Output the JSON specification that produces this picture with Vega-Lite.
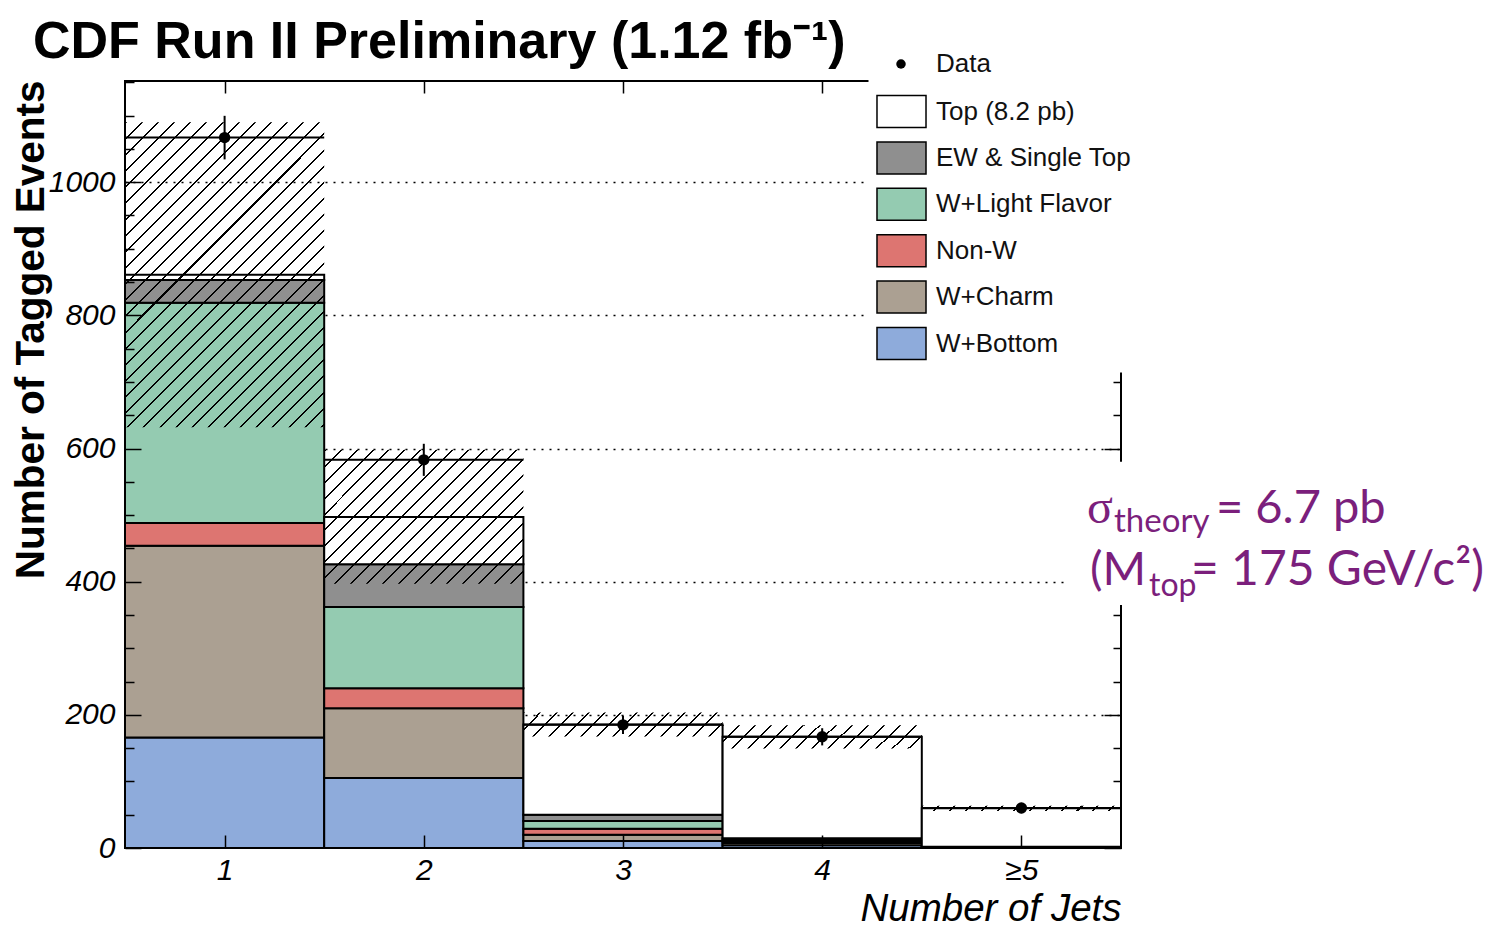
{
  "$schema": "https://vega.github.io/schema/vega-lite/v6.json",
  "width": 996,
  "height": 767,
  "autosize": {"type": "none"},
  "padding": {"left": 125, "top": 81, "right": 389, "bottom": 80},
  "background": "white",
  "title": {"text": "CDF Run II Preliminary (1.12 fb⁻¹)", "anchor": "start", "frame": "group", "font": "Liberation Sans", "fontSize": 52, "fontWeight": "bold", "color": "#000", "offset": 17, "dx": -92, "dy": 35},
  "config": {"view": {"stroke": "#000", "strokeWidth": 2}, "font": "Liberation Sans"},
  "resolve": {"scale": {"x": "shared", "y": "shared"}, "axis": {"x": "independent", "y": "independent"}},
  "datasets": {
    "bkg": [
      {"bin": 1, "x0": 0.5, "x1": 1.5, "k": 1, "comp": "W+Bottom", "n": 166},
      {"bin": 1, "x0": 0.5, "x1": 1.5, "k": 2, "comp": "W+Charm", "n": 288},
      {"bin": 1, "x0": 0.5, "x1": 1.5, "k": 3, "comp": "Non-W", "n": 34},
      {"bin": 1, "x0": 0.5, "x1": 1.5, "k": 4, "comp": "W+Light Flavor", "n": 331},
      {"bin": 1, "x0": 0.5, "x1": 1.5, "k": 5, "comp": "EW & Single Top", "n": 34},
      {"bin": 1, "x0": 0.5, "x1": 1.5, "k": 6, "comp": "Top (8.2 pb)", "n": 8},
      {"bin": 2, "x0": 1.5, "x1": 2.5, "k": 1, "comp": "W+Bottom", "n": 105},
      {"bin": 2, "x0": 1.5, "x1": 2.5, "k": 2, "comp": "W+Charm", "n": 105},
      {"bin": 2, "x0": 1.5, "x1": 2.5, "k": 3, "comp": "Non-W", "n": 30},
      {"bin": 2, "x0": 1.5, "x1": 2.5, "k": 4, "comp": "W+Light Flavor", "n": 122},
      {"bin": 2, "x0": 1.5, "x1": 2.5, "k": 5, "comp": "EW & Single Top", "n": 64},
      {"bin": 2, "x0": 1.5, "x1": 2.5, "k": 6, "comp": "Top (8.2 pb)", "n": 71},
      {"bin": 3, "x0": 2.5, "x1": 3.5, "k": 1, "comp": "W+Bottom", "n": 10.5},
      {"bin": 3, "x0": 2.5, "x1": 3.5, "k": 2, "comp": "W+Charm", "n": 9.5},
      {"bin": 3, "x0": 2.5, "x1": 3.5, "k": 3, "comp": "Non-W", "n": 9},
      {"bin": 3, "x0": 2.5, "x1": 3.5, "k": 4, "comp": "W+Light Flavor", "n": 11.5},
      {"bin": 3, "x0": 2.5, "x1": 3.5, "k": 5, "comp": "EW & Single Top", "n": 9.5},
      {"bin": 3, "x0": 2.5, "x1": 3.5, "k": 6, "comp": "Top (8.2 pb)", "n": 135.5},
      {"bin": 4, "x0": 3.5, "x1": 4.5, "k": 1, "comp": "W+Bottom", "n": 4},
      {"bin": 4, "x0": 3.5, "x1": 4.5, "k": 2, "comp": "W+Charm", "n": 3.5},
      {"bin": 4, "x0": 3.5, "x1": 4.5, "k": 3, "comp": "Non-W", "n": 2.5},
      {"bin": 4, "x0": 3.5, "x1": 4.5, "k": 4, "comp": "W+Light Flavor", "n": 2.5},
      {"bin": 4, "x0": 3.5, "x1": 4.5, "k": 5, "comp": "EW & Single Top", "n": 2},
      {"bin": 4, "x0": 3.5, "x1": 4.5, "k": 6, "comp": "Top (8.2 pb)", "n": 152.5},
      {"bin": 5, "x0": 4.5, "x1": 5.5, "k": 1, "comp": "W+Bottom", "n": 0.5},
      {"bin": 5, "x0": 4.5, "x1": 5.5, "k": 2, "comp": "W+Charm", "n": 0.4},
      {"bin": 5, "x0": 4.5, "x1": 5.5, "k": 3, "comp": "Non-W", "n": 0.4},
      {"bin": 5, "x0": 4.5, "x1": 5.5, "k": 4, "comp": "W+Light Flavor", "n": 0.4},
      {"bin": 5, "x0": 4.5, "x1": 5.5, "k": 5, "comp": "EW & Single Top", "n": 0.3},
      {"bin": 5, "x0": 4.5, "x1": 5.5, "k": 6, "comp": "Top (8.2 pb)", "n": 57.6}
    ],
    "unc": [
      {"bin": 1, "x0": 0.5, "x1": 1.5, "down": 632, "up": 1090},
      {"bin": 2, "x0": 1.5, "x1": 2.5, "down": 397, "up": 598},
      {"bin": 3, "x0": 2.5, "x1": 3.5, "down": 167.5, "up": 203.5},
      {"bin": 4, "x0": 3.5, "x1": 4.5, "down": 149.5, "up": 184.5},
      {"bin": 5, "x0": 4.5, "x1": 5.5, "down": 55.6, "up": 63.6}
    ],
    "obs": [
      {"bin": 1, "x0": 0.5, "x1": 1.5, "n": 1067, "lo": 1034.3, "hi": 1099.7},
      {"bin": 2, "x0": 1.5, "x1": 2.5, "n": 583, "lo": 558.9, "hi": 607.1},
      {"bin": 3, "x0": 2.5, "x1": 3.5, "n": 185, "lo": 171.4, "hi": 198.6},
      {"bin": 4, "x0": 3.5, "x1": 4.5, "n": 167, "lo": 154.1, "hi": 179.9},
      {"bin": 5, "x0": 4.5, "x1": 5.5, "n": 60, "lo": 52.3, "hi": 67.7}
    ]
  },
  "layer": [
    {
      "data": {"name": "obs"},
      "transform": [{"filter": "datum.bin == 1"}],
      "mark": {"type": "rect", "fill": "white", "strokeWidth": 0},
      "encoding": {
        "x": {"datum": 5.22, "type": "quantitative", "scale": {"domain": [0.5, 5.5], "nice": false, "zero": false}, "axis": null},
        "x2": {"datum": 8},
        "y": {"datum": 580, "type": "quantitative", "scale": {"domain": [0, 1152], "nice": false},
          "axis": {"grid": true, "gridDash": [2, 6], "gridColor": "#000", "gridWidth": 1.3, "gridOpacity": 1, "values": [200, 400, 600, 800, 1000], "ticks": false, "labels": false, "domain": false, "title": null, "zindex": 0}},
        "y2": {"datum": 365}
      }
    },
    {
      "data": {"name": "bkg"},
      "transform": [{"stack": "n", "groupby": ["bin"], "sort": [{"field": "k", "order": "ascending"}], "as": ["s0", "s1"]}],
      "mark": {"type": "rect", "stroke": "#000", "strokeWidth": 2},
      "encoding": {
        "x": {"field": "x0", "type": "quantitative", "scale": {"domain": [0.5, 5.5], "nice": false, "zero": false},
          "axis": {"orient": "bottom", "values": [1, 2, 3, 4, 5], "labelExpr": "datum.value == 5 ? '≥5' : datum.label", "format": "d", "tickSize": -13, "tickWidth": 1.5, "tickColor": "#000", "labelPadding": 20, "labelFont": "Liberation Sans", "labelFontStyle": "italic", "labelFontSize": 30, "labelColor": "#000", "labelFlush": false, "labelOverlap": false, "domain": false, "grid": false,
            "title": "Number of Jets", "titleFont": "Liberation Sans", "titleFontStyle": "italic", "titleFontWeight": "normal", "titleFontSize": 38.5, "titleColor": "#000", "titleAlign": "right", "titleBaseline": "alphabetic", "titleX": 996, "titleY": 72, "zindex": 1}},
        "x2": {"field": "x1"},
        "y": {"field": "s0", "type": "quantitative", "scale": {"domain": [0, 1152], "nice": false},
          "axis": {"orient": "left", "values": [0, 200, 400, 600, 800, 1000], "format": "d", "tickSize": -16, "tickWidth": 1.5, "tickColor": "#000", "labelPadding": 26, "labelFont": "Liberation Sans", "labelFontStyle": "italic", "labelFontSize": 30, "labelColor": "#000", "labelFlush": false, "labelOverlap": false, "domain": false, "grid": false,
            "title": "Number of Tagged Events", "titleFont": "Liberation Sans", "titleFontWeight": "bold", "titleFontSize": 40.5, "titleColor": "#000", "titleAngle": -90, "titleAlign": "right", "titleBaseline": "alphabetic", "titleX": -82, "titleY": -1, "zindex": 1}},
        "y2": {"field": "s1"},
        "fill": {"field": "comp", "type": "nominal",
          "scale": {"domain": ["Top (8.2 pb)", "EW & Single Top", "W+Light Flavor", "Non-W", "W+Charm", "W+Bottom"], "range": ["#ffffff", "#8f8f8f", "#94cbb1", "#dd7571", "#aba092", "#8eabdb"]},
          "legend": {"orient": "none", "legendX": 743.5, "legendY": -2.5, "title": null, "padding": 10, "fillColor": "white", "zindex": 2,
            "symbolType": "M-1.114,-0.727H1.114V0.727H-1.114Z", "symbolSize": 1936, "symbolStrokeColor": "#000", "symbolStrokeWidth": 1.5, "symbolOpacity": 1,
            "labelFont": "Liberation Sans", "labelFontSize": 26, "labelColor": "#111", "labelOffset": 11.5, "labelLimit": 400, "rowPadding": 4.4}}
      }
    },
    {
      "data": {"name": "unc"},
      "transform": [{"filter": "datum.bin == 1"}],
      "mark": {"type": "rect", "strokeWidth": 0, "fill": {"gradient": "linear", "x1": 0, "y1": 0, "x2": 0.757, "y2": 1.1587, "stops": [
        {"offset":0,"color":"rgba(0,0,0,0)"},{"offset":0,"color":"#000"},{"offset":0.004,"color":"#000"},{"offset":0.004,"color":"rgba(0,0,0,0)"},
        {"offset":0.032,"color":"rgba(0,0,0,0)"},{"offset":0.032,"color":"#000"},{"offset":0.036,"color":"#000"},{"offset":0.036,"color":"rgba(0,0,0,0)"},
        {"offset":0.064,"color":"rgba(0,0,0,0)"},{"offset":0.064,"color":"#000"},{"offset":0.068,"color":"#000"},{"offset":0.068,"color":"rgba(0,0,0,0)"},
        {"offset":0.096,"color":"rgba(0,0,0,0)"},{"offset":0.096,"color":"#000"},{"offset":0.1,"color":"#000"},{"offset":0.1,"color":"rgba(0,0,0,0)"},
        {"offset":0.128,"color":"rgba(0,0,0,0)"},{"offset":0.128,"color":"#000"},{"offset":0.132,"color":"#000"},{"offset":0.132,"color":"rgba(0,0,0,0)"},
        {"offset":0.16,"color":"rgba(0,0,0,0)"},{"offset":0.16,"color":"#000"},{"offset":0.164,"color":"#000"},{"offset":0.164,"color":"rgba(0,0,0,0)"},
        {"offset":0.192,"color":"rgba(0,0,0,0)"},{"offset":0.192,"color":"#000"},{"offset":0.196,"color":"#000"},{"offset":0.196,"color":"rgba(0,0,0,0)"},
        {"offset":0.224,"color":"rgba(0,0,0,0)"},{"offset":0.224,"color":"#000"},{"offset":0.228,"color":"#000"},{"offset":0.228,"color":"rgba(0,0,0,0)"},
        {"offset":0.256,"color":"rgba(0,0,0,0)"},{"offset":0.256,"color":"#000"},{"offset":0.26,"color":"#000"},{"offset":0.26,"color":"rgba(0,0,0,0)"},
        {"offset":0.288,"color":"rgba(0,0,0,0)"},{"offset":0.288,"color":"#000"},{"offset":0.292,"color":"#000"},{"offset":0.292,"color":"rgba(0,0,0,0)"},
        {"offset":0.32,"color":"rgba(0,0,0,0)"},{"offset":0.32,"color":"#000"},{"offset":0.324,"color":"#000"},{"offset":0.324,"color":"rgba(0,0,0,0)"},
        {"offset":0.352,"color":"rgba(0,0,0,0)"},{"offset":0.352,"color":"#000"},{"offset":0.356,"color":"#000"},{"offset":0.356,"color":"rgba(0,0,0,0)"},
        {"offset":0.384,"color":"rgba(0,0,0,0)"},{"offset":0.384,"color":"#000"},{"offset":0.388,"color":"#000"},{"offset":0.388,"color":"rgba(0,0,0,0)"},
        {"offset":0.416,"color":"rgba(0,0,0,0)"},{"offset":0.416,"color":"#000"},{"offset":0.42,"color":"#000"},{"offset":0.42,"color":"rgba(0,0,0,0)"},
        {"offset":0.448,"color":"rgba(0,0,0,0)"},{"offset":0.448,"color":"#000"},{"offset":0.452,"color":"#000"},{"offset":0.452,"color":"rgba(0,0,0,0)"},
        {"offset":0.48,"color":"rgba(0,0,0,0)"},{"offset":0.48,"color":"#000"},{"offset":0.484,"color":"#000"},{"offset":0.484,"color":"rgba(0,0,0,0)"},
        {"offset":0.512,"color":"rgba(0,0,0,0)"},{"offset":0.512,"color":"#000"},{"offset":0.516,"color":"#000"},{"offset":0.516,"color":"rgba(0,0,0,0)"},
        {"offset":0.544,"color":"rgba(0,0,0,0)"},{"offset":0.544,"color":"#000"},{"offset":0.548,"color":"#000"},{"offset":0.548,"color":"rgba(0,0,0,0)"},
        {"offset":0.576,"color":"rgba(0,0,0,0)"},{"offset":0.576,"color":"#000"},{"offset":0.58,"color":"#000"},{"offset":0.58,"color":"rgba(0,0,0,0)"},
        {"offset":0.608,"color":"rgba(0,0,0,0)"},{"offset":0.608,"color":"#000"},{"offset":0.612,"color":"#000"},{"offset":0.612,"color":"rgba(0,0,0,0)"},
        {"offset":0.64,"color":"rgba(0,0,0,0)"},{"offset":0.64,"color":"#000"},{"offset":0.644,"color":"#000"},{"offset":0.644,"color":"rgba(0,0,0,0)"},
        {"offset":0.672,"color":"rgba(0,0,0,0)"},{"offset":0.672,"color":"#000"},{"offset":0.676,"color":"#000"},{"offset":0.676,"color":"rgba(0,0,0,0)"},
        {"offset":0.704,"color":"rgba(0,0,0,0)"},{"offset":0.704,"color":"#000"},{"offset":0.708,"color":"#000"},{"offset":0.708,"color":"rgba(0,0,0,0)"},
        {"offset":0.736,"color":"rgba(0,0,0,0)"},{"offset":0.736,"color":"#000"},{"offset":0.74,"color":"#000"},{"offset":0.74,"color":"rgba(0,0,0,0)"},
        {"offset":0.768,"color":"rgba(0,0,0,0)"},{"offset":0.768,"color":"#000"},{"offset":0.772,"color":"#000"},{"offset":0.772,"color":"rgba(0,0,0,0)"},
        {"offset":0.8,"color":"rgba(0,0,0,0)"},{"offset":0.8,"color":"#000"},{"offset":0.804,"color":"#000"},{"offset":0.804,"color":"rgba(0,0,0,0)"},
        {"offset":0.832,"color":"rgba(0,0,0,0)"},{"offset":0.832,"color":"#000"},{"offset":0.836,"color":"#000"},{"offset":0.836,"color":"rgba(0,0,0,0)"},
        {"offset":0.864,"color":"rgba(0,0,0,0)"},{"offset":0.864,"color":"#000"},{"offset":0.868,"color":"#000"},{"offset":0.868,"color":"rgba(0,0,0,0)"},
        {"offset":0.896,"color":"rgba(0,0,0,0)"},{"offset":0.896,"color":"#000"},{"offset":0.9,"color":"#000"},{"offset":0.9,"color":"rgba(0,0,0,0)"},
        {"offset":0.928,"color":"rgba(0,0,0,0)"},{"offset":0.928,"color":"#000"},{"offset":0.932,"color":"#000"},{"offset":0.932,"color":"rgba(0,0,0,0)"},
        {"offset":0.96,"color":"rgba(0,0,0,0)"},{"offset":0.96,"color":"#000"},{"offset":0.964,"color":"#000"},{"offset":0.964,"color":"rgba(0,0,0,0)"},
        {"offset":0.992,"color":"rgba(0,0,0,0)"},{"offset":0.992,"color":"#000"},{"offset":0.996,"color":"#000"},{"offset":0.996,"color":"rgba(0,0,0,0)"}
      ]}},
      "encoding": {
        "x": {"field": "x0", "type": "quantitative", "scale": {"domain": [0.5, 5.5], "nice": false, "zero": false},
          "axis": {"orient": "top", "values": [1, 2, 3, 4, 5], "tickSize": -12, "tickWidth": 1.5, "tickColor": "#000", "labels": false, "domain": false, "grid": false, "title": null, "zindex": 1}},
        "x2": {"field": "x1"},
        "y": {"field": "down", "type": "quantitative", "scale": {"domain": [0, 1152], "nice": false},
          "axis": {"orient": "left", "values": [50, 100, 150, 250, 300, 350, 450, 500, 550, 650, 700, 750, 850, 900, 950, 1050, 1100, 1150], "tickSize": -9, "tickWidth": 1.5, "tickColor": "#000", "labels": false, "domain": false, "grid": false, "title": null, "zindex": 1}},
        "y2": {"field": "up"}
      }
    },
    {
      "data": {"name": "unc"},
      "transform": [{"filter": "datum.bin == 2"}],
      "mark": {"type": "rect", "strokeWidth": 0, "fill": {"gradient": "linear", "x1": 0, "y1": 0, "x2": 1.152, "y2": 0.7737, "stops": [
        {"offset":0,"color":"rgba(0,0,0,0)"},{"offset":0,"color":"#000"},{"offset":0.006,"color":"#000"},{"offset":0.006,"color":"rgba(0,0,0,0)"},
        {"offset":0.048,"color":"rgba(0,0,0,0)"},{"offset":0.048,"color":"#000"},{"offset":0.054,"color":"#000"},{"offset":0.054,"color":"rgba(0,0,0,0)"},
        {"offset":0.096,"color":"rgba(0,0,0,0)"},{"offset":0.096,"color":"#000"},{"offset":0.102,"color":"#000"},{"offset":0.102,"color":"rgba(0,0,0,0)"},
        {"offset":0.144,"color":"rgba(0,0,0,0)"},{"offset":0.144,"color":"#000"},{"offset":0.15,"color":"#000"},{"offset":0.15,"color":"rgba(0,0,0,0)"},
        {"offset":0.192,"color":"rgba(0,0,0,0)"},{"offset":0.192,"color":"#000"},{"offset":0.198,"color":"#000"},{"offset":0.198,"color":"rgba(0,0,0,0)"},
        {"offset":0.24,"color":"rgba(0,0,0,0)"},{"offset":0.24,"color":"#000"},{"offset":0.246,"color":"#000"},{"offset":0.246,"color":"rgba(0,0,0,0)"},
        {"offset":0.288,"color":"rgba(0,0,0,0)"},{"offset":0.288,"color":"#000"},{"offset":0.294,"color":"#000"},{"offset":0.294,"color":"rgba(0,0,0,0)"},
        {"offset":0.336,"color":"rgba(0,0,0,0)"},{"offset":0.336,"color":"#000"},{"offset":0.342,"color":"#000"},{"offset":0.342,"color":"rgba(0,0,0,0)"},
        {"offset":0.384,"color":"rgba(0,0,0,0)"},{"offset":0.384,"color":"#000"},{"offset":0.39,"color":"#000"},{"offset":0.39,"color":"rgba(0,0,0,0)"},
        {"offset":0.432,"color":"rgba(0,0,0,0)"},{"offset":0.432,"color":"#000"},{"offset":0.438,"color":"#000"},{"offset":0.438,"color":"rgba(0,0,0,0)"},
        {"offset":0.48,"color":"rgba(0,0,0,0)"},{"offset":0.48,"color":"#000"},{"offset":0.486,"color":"#000"},{"offset":0.486,"color":"rgba(0,0,0,0)"},
        {"offset":0.528,"color":"rgba(0,0,0,0)"},{"offset":0.528,"color":"#000"},{"offset":0.534,"color":"#000"},{"offset":0.534,"color":"rgba(0,0,0,0)"},
        {"offset":0.576,"color":"rgba(0,0,0,0)"},{"offset":0.576,"color":"#000"},{"offset":0.582,"color":"#000"},{"offset":0.582,"color":"rgba(0,0,0,0)"},
        {"offset":0.624,"color":"rgba(0,0,0,0)"},{"offset":0.624,"color":"#000"},{"offset":0.63,"color":"#000"},{"offset":0.63,"color":"rgba(0,0,0,0)"},
        {"offset":0.672,"color":"rgba(0,0,0,0)"},{"offset":0.672,"color":"#000"},{"offset":0.678,"color":"#000"},{"offset":0.678,"color":"rgba(0,0,0,0)"},
        {"offset":0.72,"color":"rgba(0,0,0,0)"},{"offset":0.72,"color":"#000"},{"offset":0.726,"color":"#000"},{"offset":0.726,"color":"rgba(0,0,0,0)"},
        {"offset":0.768,"color":"rgba(0,0,0,0)"},{"offset":0.768,"color":"#000"},{"offset":0.774,"color":"#000"},{"offset":0.774,"color":"rgba(0,0,0,0)"},
        {"offset":0.816,"color":"rgba(0,0,0,0)"},{"offset":0.816,"color":"#000"},{"offset":0.822,"color":"#000"},{"offset":0.822,"color":"rgba(0,0,0,0)"},
        {"offset":0.864,"color":"rgba(0,0,0,0)"},{"offset":0.864,"color":"#000"},{"offset":0.87,"color":"#000"},{"offset":0.87,"color":"rgba(0,0,0,0)"},
        {"offset":0.912,"color":"rgba(0,0,0,0)"},{"offset":0.912,"color":"#000"},{"offset":0.918,"color":"#000"},{"offset":0.918,"color":"rgba(0,0,0,0)"},
        {"offset":0.96,"color":"rgba(0,0,0,0)"},{"offset":0.96,"color":"#000"},{"offset":0.966,"color":"#000"},{"offset":0.966,"color":"rgba(0,0,0,0)"}
      ]}},
      "encoding": {
        "x": {"field": "x0", "type": "quantitative", "scale": {"domain": [0.5, 5.5], "nice": false, "zero": false}, "axis": null},
        "x2": {"field": "x1"},
        "y": {"field": "down", "type": "quantitative", "scale": {"domain": [0, 1152], "nice": false}, "axis": null},
        "y2": {"field": "up"}
      }
    },
    {
      "data": {"name": "unc"},
      "transform": [{"filter": "datum.bin == 3 || datum.bin == 4"}],
      "mark": {"type": "rect", "strokeWidth": 0, "fill": {"gradient": "linear", "x1": 0, "y1": 0, "x2": 1.1033, "y2": 0.1313, "stops": [
        {"offset":0,"color":"rgba(0,0,0,0)"},{"offset":0,"color":"#000"},{"offset":0.009,"color":"#000"},{"offset":0.009,"color":"rgba(0,0,0,0)"},
        {"offset":0.072,"color":"rgba(0,0,0,0)"},{"offset":0.072,"color":"#000"},{"offset":0.081,"color":"#000"},{"offset":0.081,"color":"rgba(0,0,0,0)"},
        {"offset":0.144,"color":"rgba(0,0,0,0)"},{"offset":0.144,"color":"#000"},{"offset":0.153,"color":"#000"},{"offset":0.153,"color":"rgba(0,0,0,0)"},
        {"offset":0.216,"color":"rgba(0,0,0,0)"},{"offset":0.216,"color":"#000"},{"offset":0.225,"color":"#000"},{"offset":0.225,"color":"rgba(0,0,0,0)"},
        {"offset":0.288,"color":"rgba(0,0,0,0)"},{"offset":0.288,"color":"#000"},{"offset":0.297,"color":"#000"},{"offset":0.297,"color":"rgba(0,0,0,0)"},
        {"offset":0.36,"color":"rgba(0,0,0,0)"},{"offset":0.36,"color":"#000"},{"offset":0.369,"color":"#000"},{"offset":0.369,"color":"rgba(0,0,0,0)"},
        {"offset":0.432,"color":"rgba(0,0,0,0)"},{"offset":0.432,"color":"#000"},{"offset":0.441,"color":"#000"},{"offset":0.441,"color":"rgba(0,0,0,0)"},
        {"offset":0.504,"color":"rgba(0,0,0,0)"},{"offset":0.504,"color":"#000"},{"offset":0.513,"color":"#000"},{"offset":0.513,"color":"rgba(0,0,0,0)"},
        {"offset":0.576,"color":"rgba(0,0,0,0)"},{"offset":0.576,"color":"#000"},{"offset":0.585,"color":"#000"},{"offset":0.585,"color":"rgba(0,0,0,0)"},
        {"offset":0.648,"color":"rgba(0,0,0,0)"},{"offset":0.648,"color":"#000"},{"offset":0.657,"color":"#000"},{"offset":0.657,"color":"rgba(0,0,0,0)"},
        {"offset":0.72,"color":"rgba(0,0,0,0)"},{"offset":0.72,"color":"#000"},{"offset":0.729,"color":"#000"},{"offset":0.729,"color":"rgba(0,0,0,0)"},
        {"offset":0.792,"color":"rgba(0,0,0,0)"},{"offset":0.792,"color":"#000"},{"offset":0.801,"color":"#000"},{"offset":0.801,"color":"rgba(0,0,0,0)"},
        {"offset":0.864,"color":"rgba(0,0,0,0)"},{"offset":0.864,"color":"#000"},{"offset":0.873,"color":"#000"},{"offset":0.873,"color":"rgba(0,0,0,0)"},
        {"offset":0.936,"color":"rgba(0,0,0,0)"},{"offset":0.936,"color":"#000"},{"offset":0.945,"color":"#000"},{"offset":0.945,"color":"rgba(0,0,0,0)"}
      ]}},
      "encoding": {
        "x": {"field": "x0", "type": "quantitative", "scale": {"domain": [0.5, 5.5], "nice": false, "zero": false}, "axis": null},
        "x2": {"field": "x1"},
        "y": {"field": "down", "type": "quantitative", "scale": {"domain": [0, 1152], "nice": false}, "axis": null},
        "y2": {"field": "up"}
      }
    },
    {
      "data": {"name": "unc"},
      "transform": [{"filter": "datum.bin == 5"}],
      "mark": {"type": "rect", "strokeWidth": 0, "fill": {"gradient": "linear", "x1": 0, "y1": 0, "x2": 1.0259, "y2": 0.02745, "stops": [
        {"offset":0,"color":"rgba(0,0,0,0)"},{"offset":0,"color":"#000"},{"offset":0.01,"color":"#000"},{"offset":0.01,"color":"rgba(0,0,0,0)"},
        {"offset":0.078,"color":"rgba(0,0,0,0)"},{"offset":0.078,"color":"#000"},{"offset":0.088,"color":"#000"},{"offset":0.088,"color":"rgba(0,0,0,0)"},
        {"offset":0.156,"color":"rgba(0,0,0,0)"},{"offset":0.156,"color":"#000"},{"offset":0.166,"color":"#000"},{"offset":0.166,"color":"rgba(0,0,0,0)"},
        {"offset":0.234,"color":"rgba(0,0,0,0)"},{"offset":0.234,"color":"#000"},{"offset":0.244,"color":"#000"},{"offset":0.244,"color":"rgba(0,0,0,0)"},
        {"offset":0.312,"color":"rgba(0,0,0,0)"},{"offset":0.312,"color":"#000"},{"offset":0.322,"color":"#000"},{"offset":0.322,"color":"rgba(0,0,0,0)"},
        {"offset":0.39,"color":"rgba(0,0,0,0)"},{"offset":0.39,"color":"#000"},{"offset":0.4,"color":"#000"},{"offset":0.4,"color":"rgba(0,0,0,0)"},
        {"offset":0.468,"color":"rgba(0,0,0,0)"},{"offset":0.468,"color":"#000"},{"offset":0.478,"color":"#000"},{"offset":0.478,"color":"rgba(0,0,0,0)"},
        {"offset":0.546,"color":"rgba(0,0,0,0)"},{"offset":0.546,"color":"#000"},{"offset":0.556,"color":"#000"},{"offset":0.556,"color":"rgba(0,0,0,0)"},
        {"offset":0.624,"color":"rgba(0,0,0,0)"},{"offset":0.624,"color":"#000"},{"offset":0.634,"color":"#000"},{"offset":0.634,"color":"rgba(0,0,0,0)"},
        {"offset":0.702,"color":"rgba(0,0,0,0)"},{"offset":0.702,"color":"#000"},{"offset":0.712,"color":"#000"},{"offset":0.712,"color":"rgba(0,0,0,0)"},
        {"offset":0.78,"color":"rgba(0,0,0,0)"},{"offset":0.78,"color":"#000"},{"offset":0.79,"color":"#000"},{"offset":0.79,"color":"rgba(0,0,0,0)"},
        {"offset":0.858,"color":"rgba(0,0,0,0)"},{"offset":0.858,"color":"#000"},{"offset":0.868,"color":"#000"},{"offset":0.868,"color":"rgba(0,0,0,0)"},
        {"offset":0.936,"color":"rgba(0,0,0,0)"},{"offset":0.936,"color":"#000"},{"offset":0.946,"color":"#000"},{"offset":0.946,"color":"rgba(0,0,0,0)"}
      ]}},
      "encoding": {
        "x": {"field": "x0", "type": "quantitative", "scale": {"domain": [0.5, 5.5], "nice": false, "zero": false}, "axis": null},
        "x2": {"field": "x1"},
        "y": {"field": "down", "type": "quantitative", "scale": {"domain": [0, 1152], "nice": false}, "axis": null},
        "y2": {"field": "up"}
      }
    },
    {
      "data": {"name": "obs"},
      "mark": {"type": "rule", "color": "#000", "strokeWidth": 2},
      "encoding": {
        "x": {"field": "x0", "type": "quantitative", "scale": {"domain": [0.5, 5.5], "nice": false, "zero": false}, "axis": null},
        "x2": {"field": "x1"},
        "y": {"field": "n", "type": "quantitative", "scale": {"domain": [0, 1152], "nice": false},
          "axis": {"orient": "right", "values": [0, 200, 400, 600, 800, 1000], "tickSize": -17, "tickWidth": 1.5, "tickColor": "#000", "labels": false, "domain": false, "grid": false, "title": null, "zindex": 0}}
      }
    },
    {
      "data": {"name": "obs"},
      "mark": {"type": "rule", "color": "#000", "strokeWidth": 2},
      "encoding": {
        "x": {"field": "bin", "type": "quantitative", "scale": {"domain": [0.5, 5.5], "nice": false, "zero": false}, "axis": null},
        "y": {"field": "lo", "type": "quantitative", "scale": {"domain": [0, 1152], "nice": false},
          "axis": {"orient": "right", "values": [50, 100, 150, 250, 300, 350, 450, 500, 550, 650, 700, 750, 850, 900, 950, 1050, 1100, 1150], "tickSize": -8, "tickWidth": 1.5, "tickColor": "#000", "labels": false, "domain": false, "grid": false, "title": null, "zindex": 0}},
        "y2": {"field": "hi"}
      }
    },
    {
      "data": {"name": "obs"},
      "mark": {"type": "point", "filled": true, "color": "#000", "opacity": 1, "size": 130},
      "encoding": {
        "x": {"field": "bin", "type": "quantitative", "scale": {"domain": [0.5, 5.5], "nice": false, "zero": false}, "axis": null},
        "y": {"field": "n", "type": "quantitative", "scale": {"domain": [0, 1152], "nice": false}, "axis": null},
        "shape": {"datum": "Data", "type": "nominal", "scale": {"domain": ["Data"], "range": ["circle"]},
          "legend": {"orient": "none", "legendX": 763, "legendY": -30, "title": null, "padding": 0, "zindex": 3, "symbolSize": 90, "symbolFillColor": "#000", "symbolStrokeColor": "#000", "symbolStrokeWidth": 0, "symbolOpacity": 1,
            "labelFont": "Liberation Sans", "labelFontSize": 26, "labelColor": "#111", "labelOffset": 22, "labelLimit": 400}}
      }
    },
    {
      "data": {"name": "obs"},
      "transform": [{"filter": "datum.bin == 1"}],
      "mark": {"type": "text", "text": "σ", "font": "Liberation Serif", "fontSize": 48, "color": "#7b1f7c", "align": "left", "baseline": "alphabetic"},
      "encoding": {
        "x": {"datum": 5.329, "type": "quantitative", "scale": {"domain": [0.5, 5.5], "nice": false, "zero": false}, "axis": null},
        "y": {"datum": 488.1, "type": "quantitative", "scale": {"domain": [0, 1152], "nice": false}, "axis": null}
      }
    },
    {
      "data": {"name": "obs"},
      "transform": [{"filter": "datum.bin == 1"}],
      "mark": {"type": "text", "text": "theory", "font": "Lato", "fontSize": 33, "color": "#7b1f7c", "align": "left", "baseline": "alphabetic"},
      "encoding": {
        "x": {"datum": 5.465, "type": "quantitative", "scale": {"domain": [0.5, 5.5], "nice": false, "zero": false}, "axis": null},
        "y": {"datum": 474.6, "type": "quantitative", "scale": {"domain": [0, 1152], "nice": false}, "axis": null}
      }
    },
    {
      "data": {"name": "obs"},
      "transform": [{"filter": "datum.bin == 1"}],
      "mark": {"type": "text", "text": "= 6.7 pb", "font": "Lato", "fontSize": 47, "color": "#7b1f7c", "align": "left", "baseline": "alphabetic"},
      "encoding": {
        "x": {"datum": 5.977, "type": "quantitative", "scale": {"domain": [0.5, 5.5], "nice": false, "zero": false}, "axis": null},
        "y": {"datum": 488.1, "type": "quantitative", "scale": {"domain": [0, 1152], "nice": false}, "axis": null}
      }
    },
    {
      "data": {"name": "obs"},
      "transform": [{"filter": "datum.bin == 1"}],
      "mark": {"type": "text", "text": "(M", "font": "Lato", "fontSize": 47, "color": "#7b1f7c", "align": "left", "baseline": "alphabetic"},
      "encoding": {
        "x": {"datum": 5.344, "type": "quantitative", "scale": {"domain": [0.5, 5.5], "nice": false, "zero": false}, "axis": null},
        "y": {"datum": 395.0, "type": "quantitative", "scale": {"domain": [0, 1152], "nice": false}, "axis": null}
      }
    },
    {
      "data": {"name": "obs"},
      "transform": [{"filter": "datum.bin == 1"}],
      "mark": {"type": "text", "text": "top", "font": "Lato", "fontSize": 32, "color": "#7b1f7c", "align": "left", "baseline": "alphabetic"},
      "encoding": {
        "x": {"datum": 5.641, "type": "quantitative", "scale": {"domain": [0.5, 5.5], "nice": false, "zero": false}, "axis": null},
        "y": {"datum": 378.5, "type": "quantitative", "scale": {"domain": [0, 1152], "nice": false}, "axis": null}
      }
    },
    {
      "data": {"name": "obs"},
      "transform": [{"filter": "datum.bin == 1"}],
      "mark": {"type": "text", "text": "= 175 GeV/c²)", "font": "Lato", "fontSize": 48, "color": "#7b1f7c", "align": "left", "baseline": "alphabetic"},
      "encoding": {
        "x": {"datum": 5.851, "type": "quantitative", "scale": {"domain": [0.5, 5.5], "nice": false, "zero": false}, "axis": null},
        "y": {"datum": 395.0, "type": "quantitative", "scale": {"domain": [0, 1152], "nice": false}, "axis": null}
      }
    }
  ]
}
